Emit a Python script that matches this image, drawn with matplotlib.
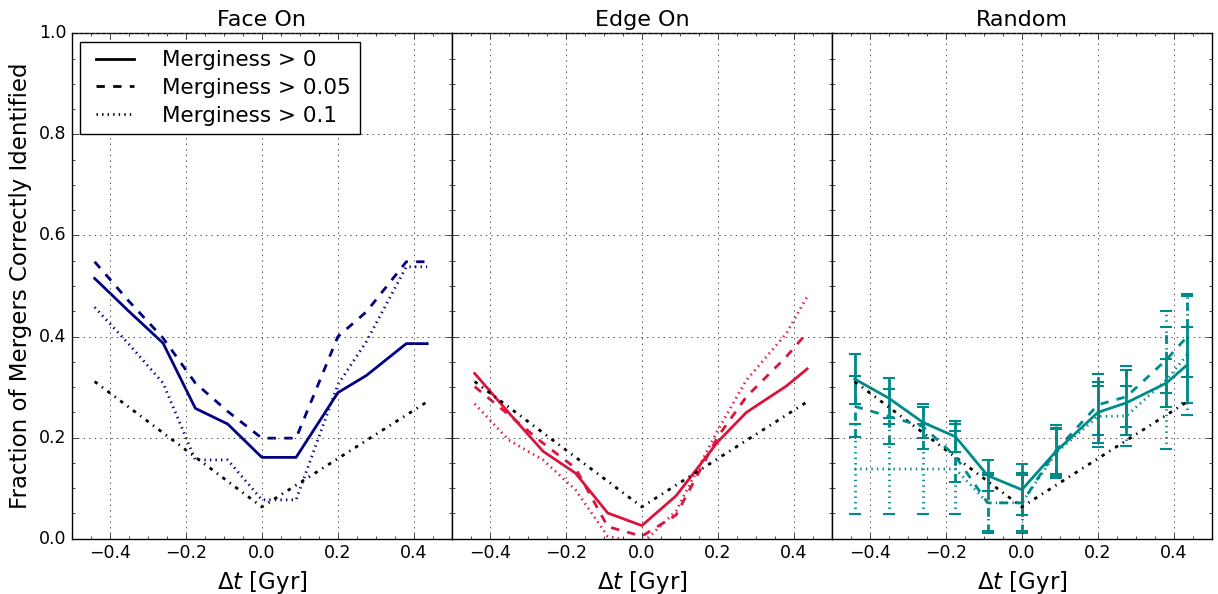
import matplotlib
matplotlib.use("Agg")
import matplotlib.pyplot as plt
from matplotlib.ticker import MultipleLocator

# time offsets (Gyr) shared by all series
dt = [-0.44, -0.35, -0.26, -0.175, -0.09, 0.0, 0.09, 0.2, 0.275, 0.38, 0.435]

# black reference line (same in every panel)
dt_ref = [-0.44, 0.0, 0.435]
frac_ref = [0.311, 0.063, 0.271]

# Face On
face_m0 = [0.515, 0.45, 0.387, 0.258, 0.227, 0.161, 0.161, 0.289, 0.323, 0.386, 0.386]
face_m05 = [0.548, 0.47, 0.397, 0.308, 0.252, 0.199, 0.199, 0.400, 0.449, 0.548, 0.548]
face_m1 = [0.458, 0.385, 0.308, 0.156, 0.156, 0.077, 0.077, 0.305, 0.390, 0.538, 0.538]

# Edge On
edge_m0 = [0.327, 0.249, 0.173, 0.130, 0.051, 0.026, 0.085, 0.192, 0.250, 0.302, 0.336]
edge_m05 = [0.301, 0.245, 0.189, 0.140, 0.024, 0.005, 0.047, 0.202, 0.281, 0.360, 0.408]
edge_m1 = [0.267, 0.195, 0.156, 0.097, 0.005, -0.01, 0.055, 0.215, 0.314, 0.406, 0.479]

# Random (with errors)
rand_m0 = [0.316, 0.278, 0.230, 0.202, 0.125, 0.097, 0.173, 0.250, 0.269, 0.308, 0.344]
rand_m0_err = [0.05, 0.04, 0.03, 0.03, 0.03, 0.05, 0.045, 0.06, 0.064, 0.048, 0.075]
rand_m05 = [0.262, 0.242, 0.222, 0.163, 0.071, 0.071, 0.175, 0.265, 0.281, 0.354, 0.400]
rand_m05_err = [0.06, 0.055, 0.045, 0.05, 0.06, 0.06, 0.05, 0.06, 0.06, 0.065, 0.08]
rand_m1 = [0.138, 0.138, 0.138, 0.138, 0.071, 0.071, 0.170, 0.242, 0.243, 0.314, 0.364]
rand_m1_err = [0.09, 0.09, 0.09, 0.09, 0.055, 0.055, 0.05, 0.06, 0.06, 0.137, 0.12]

titles = ["Face On", "Edge On", "Random"]
labels = ["Merginess > 0", "Merginess > 0.05", "Merginess > 0.1"]
styles = ["-", "--", ":"]

plt.style.use("classic")
plt.rcParams["figure.facecolor"] = "white"
plt.rcParams["savefig.facecolor"] = "white"
plt.rcParams["mathtext.fontset"] = "dejavusans"
plt.rcParams["font.family"] = ["DejaVu Sans"]

fig, axes = plt.subplots(1, 3, figsize=(12.18, 5.94), dpi=100, sharey=True)
fig.subplots_adjust(left=0.059, right=0.995, top=0.944, bottom=0.093, wspace=0)

ref_style = (0, (2.5, 4, 1, 4))


def draw_ref(ax):
    ax.plot(dt_ref, frac_ref, color="k", lw=2, linestyle=ref_style)


# Face On
ax = axes[0]
for y, ls in zip([face_m0, face_m05, face_m1], styles):
    ax.plot(dt, y, color="navy", lw=2, linestyle=ls)
draw_ref(ax)

# Edge On
ax = axes[1]
for y, ls in zip([edge_m0, edge_m05, edge_m1], styles):
    ax.plot(dt, y, color="crimson", lw=2, linestyle=ls)
draw_ref(ax)

# Random
ax = axes[2]
for y, e, ls in zip([rand_m0, rand_m05, rand_m1],
                    [rand_m0_err, rand_m05_err, rand_m1_err], styles):
    eb = ax.errorbar(dt, y, yerr=e, color="darkcyan", lw=2, linestyle=ls,
                     elinewidth=2, capsize=4, capthick=1.5)
    eb[2][0].set_linestyle(ls)
draw_ref(ax)

# legend with black handles
for ls, lab in zip(styles, labels):
    axes[0].plot([], [], color="k", lw=2, linestyle=ls, label=lab)
axes[0].legend(loc="upper left", fontsize=15.5, handlelength=2.4,
               handletextpad=1.0, borderpad=0.4, labelspacing=0.35,
               borderaxespad=0.4)

for ax, t in zip(axes, titles):
    ax.set_xlim(-0.5, 0.5)
    ax.set_ylim(0, 1)
    ax.set_title(t, fontsize=16)
    ax.set_xlabel(r"$\Delta t$ [Gyr]", fontsize=16.5)
    ax.xaxis.set_major_locator(MultipleLocator(0.2))
    ax.xaxis.set_minor_locator(MultipleLocator(0.05))
    ax.yaxis.set_major_locator(MultipleLocator(0.2))
    ax.yaxis.set_minor_locator(MultipleLocator(0.05))
    ax.grid(True, which="major", color="0.3", linestyle=":", lw=0.7)
    ax.tick_params(labelsize=12.5)
    ax.set_xticks([-0.4, -0.2, 0.0, 0.2, 0.4])

axes[0].set_ylabel("Fraction of Mergers Correctly Identified", fontsize=16.5)

fig.savefig("out.png", dpi=100)
